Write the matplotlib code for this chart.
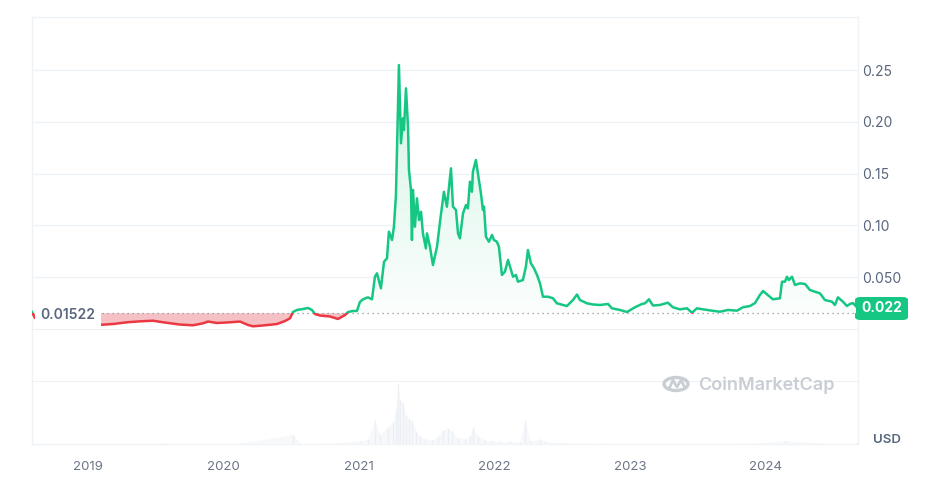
import numpy as np
import matplotlib.pyplot as plt
from matplotlib.path import Path
from matplotlib.patches import Rectangle, Circle, FancyBboxPatch
from matplotlib.colors import LinearSegmentedColormap

plt.rcParams['font.family'] = ['Inter', 'DejaVu Sans']

# ---- Data ----------------------------------------------------------------
years = [
    2018.587, 2018.609, 2018.793, 2018.941, 2019.074, 2019.185, 2019.288, 2019.384,
    2019.480, 2019.554, 2019.679, 2019.775, 2019.849, 2019.886, 2019.952, 2020.026,
    2020.122, 2020.181, 2020.218, 2020.292, 2020.395, 2020.454, 2020.491, 2020.513,
    2020.542, 2020.587, 2020.624, 2020.653, 2020.675, 2020.712, 2020.786, 2020.845,
    2020.897, 2020.919, 2020.956, 2020.985, 2021.007, 2021.030, 2021.066, 2021.096,
    2021.118, 2021.133, 2021.162, 2021.185, 2021.207, 2021.221, 2021.244, 2021.258,
    2021.273, 2021.295, 2021.310, 2021.325, 2021.332, 2021.347, 2021.362, 2021.369,
    2021.384, 2021.391, 2021.399, 2021.413, 2021.428, 2021.443, 2021.458, 2021.472,
    2021.494, 2021.502, 2021.524, 2021.546, 2021.576, 2021.598, 2021.627, 2021.649,
    2021.679, 2021.694, 2021.716, 2021.731, 2021.745, 2021.768, 2021.790, 2021.804,
    2021.819, 2021.834, 2021.841, 2021.863, 2021.878, 2021.900, 2021.915, 2021.923,
    2021.937, 2021.959, 2021.982, 2021.996, 2022.018, 2022.033, 2022.055, 2022.077,
    2022.100, 2022.122, 2022.137, 2022.159, 2022.173, 2022.210, 2022.232, 2022.247,
    2022.269, 2022.292, 2022.314, 2022.336, 2022.358, 2022.395, 2022.432, 2022.461,
    2022.506, 2022.535, 2022.579, 2022.609, 2022.631, 2022.683, 2022.727, 2022.779,
    2022.838, 2022.867, 2022.926, 2022.978, 2023.037, 2023.089, 2023.111, 2023.140,
    2023.170, 2023.221, 2023.280, 2023.317, 2023.369, 2023.421, 2023.458, 2023.494,
    2023.539, 2023.605, 2023.664, 2023.723, 2023.790, 2023.834, 2023.886, 2023.923,
    2023.959, 2023.982, 2024.018, 2024.055, 2024.107, 2024.122, 2024.144, 2024.159,
    2024.173, 2024.196, 2024.218, 2024.255, 2024.292, 2024.328, 2024.365, 2024.402,
    2024.439, 2024.491, 2024.513, 2024.535, 2024.572, 2024.601, 2024.624, 2024.646,
    2024.668,
]
prices = [
    0.0164, 0.0106, 0.0068, 0.0048, 0.0039, 0.0048, 0.0065, 0.0074,
    0.0080, 0.0065, 0.0043, 0.0036, 0.0055, 0.0072, 0.0058, 0.0063,
    0.0072, 0.0039, 0.0026, 0.0034, 0.0048, 0.0077, 0.0103, 0.0164,
    0.0184, 0.0193, 0.0203, 0.0184, 0.0145, 0.0130, 0.0121, 0.0097,
    0.0135, 0.0164, 0.0174, 0.0174, 0.0261, 0.0287, 0.0306, 0.0287,
    0.0505, 0.0538, 0.0393, 0.0650, 0.0683, 0.0940, 0.0860, 0.0988,
    0.1294, 0.2550, 0.1794, 0.2035, 0.1922, 0.2325, 0.1954, 0.1536,
    0.1343, 0.0860, 0.1343, 0.0988, 0.1262, 0.1053, 0.1133, 0.0924,
    0.0779, 0.0924, 0.0795, 0.0618, 0.0795, 0.1034, 0.1326, 0.1181,
    0.1552, 0.1181, 0.1150, 0.0924, 0.0876, 0.1118, 0.1198, 0.1166,
    0.1423, 0.1326, 0.1520, 0.1633, 0.1504, 0.1311, 0.1150, 0.1181,
    0.0892, 0.0843, 0.0908, 0.0860, 0.0843, 0.0795, 0.0522, 0.0554,
    0.0667, 0.0570, 0.0505, 0.0522, 0.0457, 0.0473, 0.0602, 0.0763,
    0.0635, 0.0586, 0.0522, 0.0441, 0.0312, 0.0312, 0.0297, 0.0248,
    0.0232, 0.0222, 0.0280, 0.0333, 0.0280, 0.0248, 0.0237, 0.0232,
    0.0242, 0.0200, 0.0184, 0.0164, 0.0210, 0.0242, 0.0248, 0.0287,
    0.0227, 0.0232, 0.0254, 0.0210, 0.0190, 0.0200, 0.0157, 0.0200,
    0.0190, 0.0177, 0.0167, 0.0184, 0.0177, 0.0210, 0.0222, 0.0251,
    0.0328, 0.0367, 0.0328, 0.0287, 0.0297, 0.0457, 0.0457, 0.0505,
    0.0473, 0.0505, 0.0425, 0.0441, 0.0435, 0.0377, 0.0360, 0.0345,
    0.0280, 0.0264, 0.0232, 0.0306, 0.0264, 0.0222, 0.0242, 0.0251,
    0.0220,
]
base_price = 0.01522
last_price = "0.022"

vol_years = [
    2019.570, 2020.122, 2020.513, 2020.565, 2020.860, 2021.007, 2021.066, 2021.118,
    2021.155, 2021.214, 2021.251, 2021.273, 2021.288, 2021.303, 2021.325, 2021.347,
    2021.369, 2021.391, 2021.421, 2021.450, 2021.487, 2021.539, 2021.583, 2021.620,
    2021.657, 2021.686, 2021.731, 2021.782, 2021.819, 2021.841, 2021.878, 2021.930,
    2021.982, 2022.041, 2022.114, 2022.188, 2022.225, 2022.262, 2022.336, 2022.373,
    2022.483, 2022.779, 2023.148, 2023.517, 2023.959, 2024.144, 2024.402, 2024.668,
]
volumes = [
    0.01, 0.01, 0.15, 0.01, 0.02, 0.05, 0.08, 0.38,
    0.15, 0.27, 0.35, 0.55, 0.97, 0.70, 0.65, 0.45,
    0.40, 0.38, 0.20, 0.12, 0.08, 0.06, 0.12, 0.22,
    0.25, 0.20, 0.10, 0.08, 0.12, 0.27, 0.12, 0.06,
    0.05, 0.04, 0.04, 0.03, 0.38, 0.05, 0.08, 0.04,
    0.02, 0.015, 0.01, 0.01, 0.02, 0.05, 0.015, 0.01,
]

y_ticks = [0.05, 0.10, 0.15, 0.20, 0.25]
y_tick_labels = ["0.050", "0.10", "0.15", "0.20", "0.25"]
x_ticks = [2019, 2020, 2021, 2022, 2023, 2024]

GREEN = "#16c784"
RED = "#ea3943"
GRID = "#eff2f5"
TEXT = "#58667e"

x = np.array(years)
p = np.array(prices)
x0, x1 = 2018.587, 2024.683

# ---- Figure --------------------------------------------------------------
W, H = 925, 501
fig = plt.figure(figsize=(W / 100, H / 100), dpi=100)

def rect(l, t, r, b):
    return [l / W, 1 - b / H, (r - l) / W, (b - t) / H]

frame = fig.add_axes(rect(32, 17, 858, 444), zorder=0)
frame.set_xticks([]); frame.set_yticks([])
for s in frame.spines.values():
    s.set_color(GRID); s.set_linewidth(1.0)

ax = fig.add_axes(rect(32, 17, 858, 329), zorder=2)
ax.patch.set_alpha(0)
ax.set_xlim(x0, x1)
ax.set_ylim(0, 0.3014)

# price line, split at the base price using clip rectangles
top_clip = Rectangle((x0, base_price), x1 - x0, 1, transform=ax.transData)
bot_clip = Rectangle((x0, -1), x1 - x0, 1 + base_price, transform=ax.transData)
g_line, = ax.plot(x, p, color=GREEN, lw=1.8, zorder=4, solid_joinstyle="round")
g_line.set_clip_path(top_clip)
r_line, = ax.plot(x, p, color=RED, lw=1.8, zorder=4, solid_joinstyle="round")
r_line.set_clip_path(bot_clip)

# red fill below base
ax.fill_between(x, p, base_price, where=p < base_price, interpolate=True,
                color="#f4b6ba", alpha=0.85, lw=0, zorder=2)

# green gradient fill above base
gfill = ax.fill_between(x, p, base_price, where=p >= base_price, interpolate=True,
                        facecolor="none", lw=0)
cmap = LinearSegmentedColormap.from_list("g", ["#fbfefd", "#d4f4e6"])
grad = np.linspace(0, 1, 256).reshape(-1, 1)
im = ax.imshow(grad, extent=(x0, x1, base_price, p.max()), origin="lower",
               cmap=cmap, aspect="auto", zorder=1)
im.set_clip_path(Path.make_compound_path(*gfill.get_paths()), transform=ax.transData)
ax.set_xlim(x0, x1)
ax.set_ylim(0, 0.3014)

# dotted base line
ax.axhline(base_price, color="#8a939f", lw=0.9, ls=(0, (1, 3)), zorder=3)

# grid and axes styling
for t in y_ticks:
    ax.axhline(t, color=GRID, lw=1.0, zorder=0)
ax.yaxis.tick_right()
ax.set_yticks(y_ticks)
ax.set_yticklabels(y_tick_labels)
ax.tick_params(axis="y", length=0, pad=3, labelsize=10, labelcolor=TEXT)
ax.set_xticks([])
for side in ("top", "left", "right"):
    ax.spines[side].set_visible(False)
ax.spines["bottom"].set_color(GRID)

# base price label (white box hides the line beneath it)
ax.text(2018.648, base_price - 0.0015, "0.01522", ha="left", va="center", fontsize=10,
        color=TEXT, fontweight="semibold", zorder=6,
        bbox=dict(boxstyle="square,pad=0.4", fc="white", ec="none"))

# last price tag
fig.patches.append(FancyBboxPatch((855 / W, 1 - 320 / H), 53 / W, 23 / H,
                                  boxstyle="round,pad=0,rounding_size=0.006",
                                  transform=fig.transFigure, fc=GREEN, ec="none"))
fig.text(881.5 / W, 1 - 308.5 / H, last_price, ha="center", va="center",
         color="white", fontsize=10, fontweight="bold")

# ---- Volume panel --------------------------------------------------------
vax = fig.add_axes(rect(32, 381, 858, 444), zorder=1)
vax.patch.set_alpha(0)
vax.set_xlim(x0, x1)
vax.set_ylim(0, 1)
vax.fill_between(vol_years, volumes, 0, color="#f6f8fa", lw=0)
vax.vlines(vol_years, 0, volumes, color="#eceff3", lw=0.9)
for side in ("left", "right", "bottom"):
    vax.spines[side].set_visible(False)
vax.spines["top"].set_color(GRID)
vax.set_yticks([])
vax.set_xticks(x_ticks)
vax.set_xticklabels([str(t) for t in x_ticks])
vax.tick_params(axis="x", length=0, pad=12, labelsize=9.5, labelcolor="#6b7587")

fig.text(873 / W, 1 - 440 / H, "USD", ha="left", va="center", fontsize=9.5,
         color=TEXT, fontweight="semibold")

# watermark
logo = Circle((676 / W, 1 - 384 / H), 12 / W, transform=fig.transFigure,
              fill=False, ec="#c9ced5", lw=2.4)
fig.patches.append(logo)
fig.lines.append(plt.Line2D([669 / W, 673 / W, 677 / W, 681 / W, 684 / W],
                            [1 - 389 / H, 1 - 380 / H, 1 - 387 / H, 1 - 380 / H, 1 - 386 / H],
                            transform=fig.transFigure, color="#c9ced5", lw=2.0))
fig.text(698 / W, 1 - 385 / H, "CoinMarketCap", ha="left", va="center",
         fontsize=13, color="#c9ced5", fontweight="semibold")

fig.savefig("out.png", dpi=100, facecolor="white")
